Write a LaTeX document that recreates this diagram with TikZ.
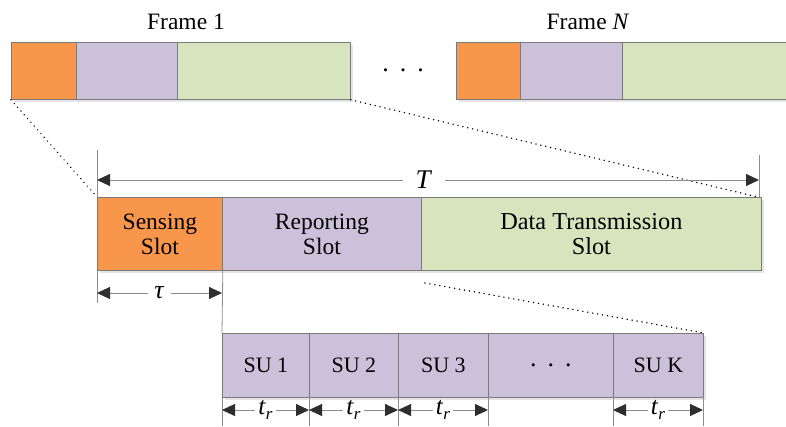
\documentclass[tikz,border=0pt]{standalone}
\usepackage{fontspec}
\setmainfont{Liberation Serif}
\usetikzlibrary{arrows.meta}
\definecolor{orng}{HTML}{F8964C}
\definecolor{purp}{HTML}{CCC1DA}
\definecolor{grn}{HTML}{D7E4BD}
\definecolor{edgegray}{HTML}{7A7A7A}
\definecolor{linegray}{HTML}{8C8C8C}
\definecolor{tipgray}{HTML}{2E2E2E}
\definecolor{shadowgray}{HTML}{E4E4E4}
\newcommand{\trlab}{\textit{t}\raisebox{-5pt}{\fontsize{17}{17}\selectfont\textit{r}}}
\begin{document}
\begin{tikzpicture}[x=1pt,y=-1pt,
  blk/.style={draw=edgegray, line width=0.8pt, inner sep=0pt, anchor=north west,
    font=\fontsize{23.5}{25}\selectfont, align=center},
  sulab/.style={blk, font=\fontsize{22}{25}\selectfont},
  shadowbox/.style={fill=shadowgray},
  dim/.style={draw=linegray, line width=0.9pt,
    {Triangle[length=13pt,width=12pt,fill=tipgray,color=tipgray]}-{Triangle[length=13pt,width=12pt,fill=tipgray,color=tipgray]}},
  ext/.style={draw=linegray, line width=0.8pt},
  dimlab/.style={fill=white, inner ysep=0pt},
  zoomline/.style={draw=black, line width=1.6pt, dash pattern=on 0.01pt off 5pt, line cap=round},
  title/.style={font=\fontsize{23.5}{25}\selectfont},
  ellip/.style={font=\fontsize{26}{25}\selectfont}
]
\useasboundingbox (0,0) rectangle (786,426);

% shadows
\fill[shadowbox] (14,45) rectangle (353,102);
\fill[shadowbox] (459,45) rectangle (790,102);
\fill[shadowbox] (100,200) rectangle (764,273);
\fill[shadowbox] (225,336) rectangle (706,400);

% Frame 1
\node[blk, fill=orng, minimum width=65pt, minimum height=57pt] (f1s) at (11,42) {};
\node[blk, fill=purp, minimum width=101pt, minimum height=57pt] (f1r) at (76,42) {};
\node[blk, fill=grn, minimum width=173pt, minimum height=57pt] (f1d) at (177,42) {};
\node[title] (t1) at (186,22) {Frame 1};

% Frame N
\node[blk, fill=orng, minimum width=64pt, minimum height=57pt] (fns) at (456,42) {};
\node[blk, fill=purp, minimum width=102pt, minimum height=57pt] (fnr) at (520,42) {};
\node[blk, fill=grn, minimum width=168pt, minimum height=57pt] (fnd) at (622,42) {};
\node[title] (tn) at (588,22) {Frame \textit{N}};

\node[ellip] (topdots) at (403,70) {.\hspace{11pt}.\hspace{11pt}.};

% Middle frame
\node[blk, fill=orng, minimum width=125pt, minimum height=73pt] (ms) at (97,197) {Sensing\\Slot};
\node[blk, fill=purp, minimum width=199pt, minimum height=73pt] (mr) at (222,197) {Reporting\\Slot};
\node[blk, fill=grn, minimum width=340pt, minimum height=73pt, font=\fontsize{24.3}{25}\selectfont] (md) at (421,197) {Data Transmission\\Slot};

% SU slots
\node[sulab, fill=purp, minimum width=87pt, minimum height=64pt] (su1) at (222,333) {SU 1};
\node[sulab, fill=purp, minimum width=89pt, minimum height=64pt] (su2) at (309,333) {SU 2};
\node[sulab, fill=purp, minimum width=90pt, minimum height=64pt] (su3) at (398,333) {SU 3};
\node[sulab, fill=purp, minimum width=125pt, minimum height=64pt, font=\fontsize{26}{25}\selectfont] (sud) at (488,333) {.\hspace{11pt}.\hspace{11pt}.};
\node[sulab, fill=purp, minimum width=90pt, minimum height=64pt] (suk) at (613,333) {SU K};

% zoom dotted lines
\coordinate (zr) at (425,283);
\draw[zoomline] (f1s.south west) -- (ms.north west);
\draw[zoomline] (f1d.south east) -- ([xshift=-4pt]md.north east);
\draw[zoomline] (zr) -- (suk.north east);

% T dimension
\coordinate (Tl0) at (97,150);
\coordinate (Tr0) at (759,155);
\coordinate (Tl) at (97,180);
\coordinate (Tr) at (759,180);
\draw[ext] (Tl0) -- (ms.north west);
\draw[ext] (Tr0) -- (759,197);
\draw[dim] (Tl) -- (Tr) node[pos=0.494, dimlab, inner xsep=13pt, font=\fontsize{27}{27}\selectfont] (Tlab) {\textit{T}};

% tau dimension
\coordinate (tauL) at (97,303);
\draw[ext] (ms.south west) -- (tauL);
\draw[ext] (ms.south east) -- (su1.north west);
\draw[dim] (97,293) -- (222,293) node[pos=0.5, dimlab, inner xsep=6pt, font=\fontsize{26}{26}\selectfont] (taulab) {\textit{τ}};

% t_r dimensions
\foreach \n/\x in {a/222,b/309,c/398,d/488,e/613,f/703}{
  \coordinate (v\n) at (\x,426);
  \draw[ext] (\x,397) -- (v\n);
}
\foreach \xa/\xb in {222/309,309/398,398/488,613/703}{
  \draw[dim] (\xa,410) -- (\xb,410) node[pos=0.5, dimlab, inner xsep=3pt, font=\fontsize{25}{25}\selectfont] {\trlab};
}
\end{tikzpicture}
\end{document}
